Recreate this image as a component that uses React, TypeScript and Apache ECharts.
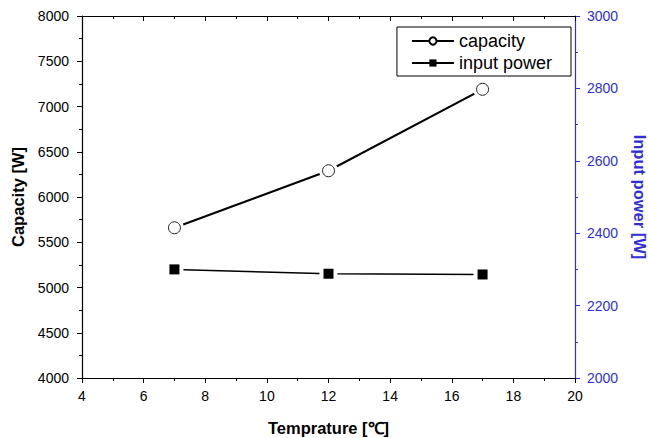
import React, { useEffect, useRef } from "react";
import * as echarts from "echarts";

const temps = [7, 12, 17];
const capacity = [5660, 6290, 7190];
const inputPower = [2300, 2288, 2286];

const BLUE = "#2f2fd6";
const FONT = "'Liberation Sans', Arial, sans-serif";

export default function App() {
  const ref = useRef<HTMLDivElement>(null);
  useEffect(() => {
    if (!ref.current) return;
    const chart = echarts.init(ref.current, undefined, { renderer: "svg" });
    const capData = temps.map((t, i) => [t, capacity[i]]);
    const powData = temps.map((t, i) => [t, inputPower[i]]);
    const plain = (v: number) => String(v);
    chart.setOption({
      animation: false,
      backgroundColor: "#fff",
      textStyle: { fontFamily: FONT },
      grid: { left: 82, right: 73, top: 16, bottom: 60, containLabel: false, outerBoundsMode: "none" },
      legend: {
        orient: "vertical",
        right: 77,
        top: 27,
        padding: [5, 19, 4, 14],
        itemGap: 4,
        itemWidth: 42,
        itemHeight: 9,
        borderColor: "#000",
        borderWidth: 1,
        borderRadius: 0,
        textStyle: { fontSize: 18, lineHeight: 18, color: "#000", fontFamily: FONT },
        data: ["capacity", "input power"],
      },
      xAxis: [
        {
          type: "value",
          min: 4,
          max: 20,
          interval: 2,
          position: "bottom",
          name: "Temprature [\u2103]",
          nameLocation: "middle",
          nameGap: 41,
          nameTextStyle: { fontSize: 16.5, fontWeight: "bold", color: "#000", fontFamily: FONT },
          axisLine: { show: true, lineStyle: { color: "#000", width: 1.2 } },
          axisTick: { show: true, inside: false, length: 5, lineStyle: { color: "#000" } },
          minorTick: { show: true, splitNumber: 2, length: 3, lineStyle: { color: "#000" } },
          axisLabel: { fontSize: 14, color: "#000", margin: 11, fontFamily: FONT, formatter: plain },
          splitLine: { show: false },
        },
        {
          type: "value",
          min: 4,
          max: 20,
          interval: 2,
          position: "top",
          axisLine: { show: true, lineStyle: { color: "#000", width: 1.2 } },
          axisTick: { show: true, inside: true, length: 5, lineStyle: { color: "#000" } },
          minorTick: { show: true, splitNumber: 2, length: 3, lineStyle: { color: "#000" } },
          axisLabel: { show: false },
          splitLine: { show: false },
        },
      ],
      yAxis: [
        {
          type: "value",
          min: 4000,
          max: 8000,
          interval: 500,
          position: "left",
          name: "Capacity [W]",
          nameLocation: "middle",
          nameGap: 45,
          nameRotate: 90,
          nameTextStyle: { fontSize: 16.5, fontWeight: "bold", color: "#000", fontFamily: FONT },
          axisLine: { show: true, lineStyle: { color: "#000", width: 1.2 } },
          axisTick: { show: true, inside: false, length: 5, lineStyle: { color: "#000" } },
          minorTick: { show: true, splitNumber: 2, length: 3, lineStyle: { color: "#000" } },
          axisLabel: { fontSize: 14, color: "#000", margin: 13, fontFamily: FONT, formatter: plain },
          splitLine: { show: false },
        },
        {
          type: "value",
          min: 2000,
          max: 3000,
          interval: 200,
          position: "right",
          name: "Input power [W]",
          nameLocation: "middle",
          nameGap: 56,
          nameRotate: -90,
          nameTextStyle: { fontSize: 16.5, fontWeight: "bold", color: BLUE, fontFamily: FONT },
          axisLine: { show: true, lineStyle: { color: BLUE, width: 1.2 } },
          axisTick: { show: true, inside: false, length: 5, lineStyle: { color: BLUE } },
          minorTick: { show: true, splitNumber: 2, length: 3, lineStyle: { color: BLUE } },
          axisLabel: { fontSize: 14, color: BLUE, margin: 12, fontFamily: FONT, formatter: plain },
          splitLine: { show: false },
        },
      ],
      series: [
        {
          name: "capacity",
          type: "line",
          xAxisIndex: 0,
          yAxisIndex: 0,
          data: capData,
          symbol: "circle",
          symbolSize: 11,
          itemStyle: { color: "#fff", borderColor: "#000", borderWidth: 1 },
          lineStyle: { color: "#000", width: 2 },
          z: 2,
        },
        {
          name: "input power",
          type: "line",
          xAxisIndex: 0,
          yAxisIndex: 1,
          data: powData,
          symbol: "rect",
          symbolSize: 10,
          itemStyle: { color: "#000" },
          lineStyle: { color: "#000", width: 1.5 },
          z: 2,
        },
        {
          type: "scatter",
          xAxisIndex: 0,
          yAxisIndex: 0,
          data: capData,
          symbol: "circle",
          symbolSize: 19,
          itemStyle: { color: "#ffffff", opacity: 1 },
          silent: true,
          z: 5,
        },
        {
          type: "scatter",
          xAxisIndex: 0,
          yAxisIndex: 1,
          data: powData,
          symbol: "rect",
          symbolSize: 18,
          itemStyle: { color: "#ffffff", opacity: 1 },
          silent: true,
          z: 5,
        },
        {
          type: "scatter",
          xAxisIndex: 0,
          yAxisIndex: 0,
          data: capData,
          symbol: "circle",
          symbolSize: 12,
          itemStyle: { color: "#ffffff", borderColor: "#222", borderWidth: 1, opacity: 1 },
          silent: true,
          z: 6,
        },
        {
          type: "scatter",
          xAxisIndex: 0,
          yAxisIndex: 1,
          data: powData,
          symbol: "rect",
          symbolSize: 10,
          itemStyle: { color: "#000", opacity: 1 },
          silent: true,
          z: 6,
        },
      ],
    });
    return () => chart.dispose();
  }, []);
  return <div ref={ref} style={{ width: 648, height: 438, position: "absolute", left: 0, top: 0 }} />;
}
